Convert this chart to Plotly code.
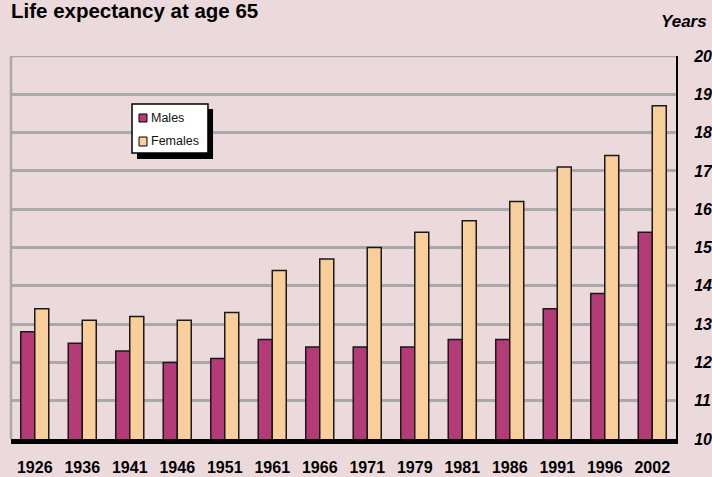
import plotly.graph_objects as go

years = ["1926", "1936", "1941", "1946", "1951", "1961", "1966", "1971",
         "1979", "1981", "1986", "1991", "1996", "2002"]
males = [12.8, 12.5, 12.3, 12.0, 12.1, 12.6, 12.4, 12.4, 12.4, 12.6, 12.6, 13.4, 13.8, 15.4]
females = [13.4, 13.1, 13.2, 13.1, 13.3, 14.4, 14.7, 15.0, 15.4, 15.7, 16.2, 17.1, 17.4, 18.7]
y_ticks = list(range(10, 21))
series_names = ["Males", "Females"]
series_colors = ["#B53A78", "#F8CE9B"]

BG = "#EBD9DC"
FONT = "Liberation Sans, Arial, Helvetica, sans-serif"
GRID = "#A9A9A9"

fig = go.Figure()
for name, vals, col in zip(series_names, [males, females], series_colors):
    fig.add_trace(go.Bar(x=years, y=vals, name=name,
                         marker=dict(color=col, line=dict(color="#1a1a1a", width=1.5))))

# custom legend (box with drop shadow)
shapes = [
    dict(type="line", xref="paper", yref="paper", x0=0, x1=0, y0=0, y1=1,
         line=dict(color=GRID, width=2.5), layer="below"),
    dict(type="line", xref="paper", yref="y", x0=0, x1=1, y0=20, y1=20,
         line=dict(color=GRID, width=2.5), layer="below"),
    dict(type="rect", xref="paper", yref="paper", x0=0.1895, x1=0.3038, y0=0.7311, y1=0.8616,
         fillcolor="black", line=dict(width=0), layer="above"),
    dict(type="rect", xref="paper", yref="paper", x0=0.182, x1=0.2962, y0=0.7467, y1=0.8747,
         fillcolor="white", line=dict(color="black", width=1.5), layer="above"),
]
leg_sq_y = [(0.8277, 0.8486), (0.765, 0.7885)]
leg_txt_y = [0.838, 0.7768]
annotations = []
for name, col, (ya, yb), ty in zip(series_names, series_colors, leg_sq_y, leg_txt_y):
    shapes.append(dict(type="rect", xref="paper", yref="paper", x0=0.1925, x1=0.2045,
                       y0=ya, y1=yb, fillcolor=col, line=dict(color="black", width=1),
                       layer="above"))
    annotations.append(dict(text=name, xref="paper", yref="paper", x=0.208, y=ty,
                            xanchor="left", yanchor="middle", showarrow=False,
                            font=dict(size=12.5, family=FONT, color="#111")))

annotations += [
    dict(text="<b>Life expectancy at age 65</b>", xref="paper", yref="paper",
         x=-0.003, y=1.118, xanchor="left", yanchor="middle", showarrow=False,
         font=dict(size=20.5, family=FONT)),
    dict(text="<b><i>Years</i></b>", xref="paper", yref="paper",
         x=1.05, y=1.091, xanchor="right", yanchor="middle", showarrow=False,
         font=dict(size=17, family=FONT)),
]

fig.update_layout(
    width=712, height=477,
    margin=dict(l=11, r=36, t=56, b=38),
    paper_bgcolor=BG, plot_bgcolor=BG,
    barmode="group", bargap=0.41, bargroupgap=0.0,
    font=dict(family=FONT, color="#000"),
    showlegend=False,
    xaxis=dict(type="category", showgrid=False, showline=True, linecolor="black",
               linewidth=5, tickfont=dict(size=16, family=FONT, weight="bold"),
               ticks="", ticklabelstandoff=10, automargin=False),
    yaxis=dict(side="right", range=[10, 20], tickvals=y_ticks, showgrid=True,
               gridcolor=GRID, gridwidth=2.5, showline=True, linecolor="black",
               linewidth=2, ticks="", ticklabelstandoff=13, zeroline=False,
               automargin=False,
               tickfont=dict(size=16, family=FONT, weight="bold", style="italic")),
    shapes=shapes,
    annotations=annotations,
)

fig.write_html("out.html", config={"displayModeBar": False},
               post_script="document.body.style.margin='0';document.body.style.overflow='hidden';")
